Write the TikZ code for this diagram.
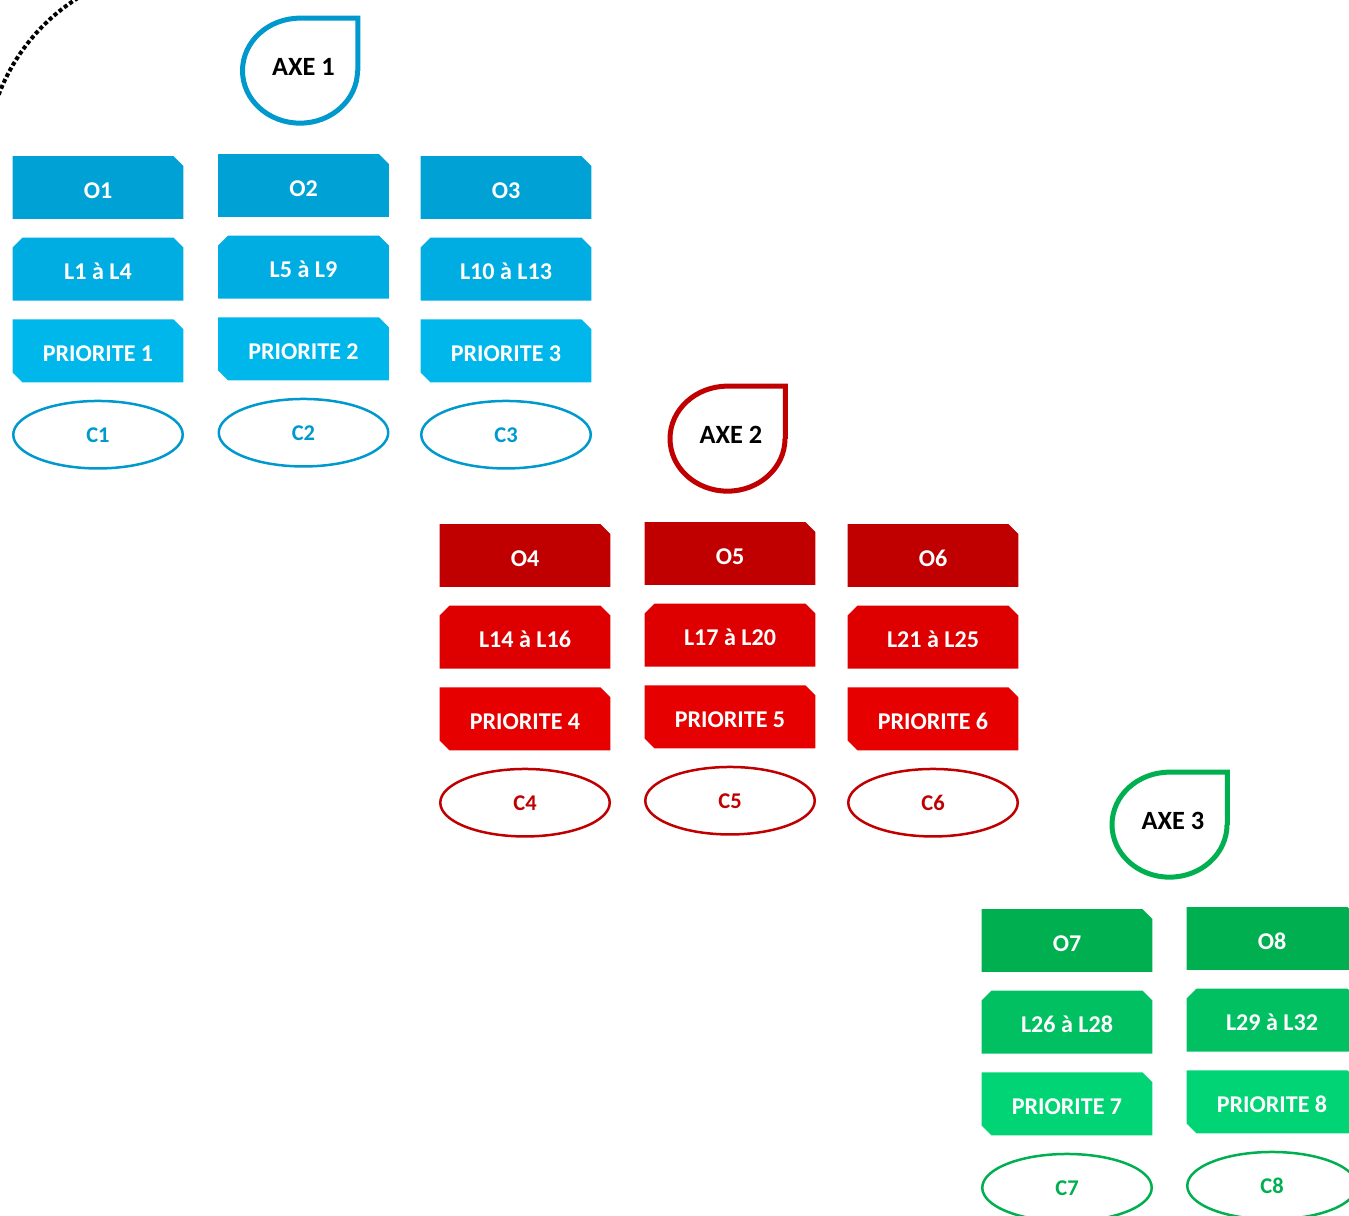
\documentclass[tikz,border=0pt]{standalone}
\usepackage{fontspec}
\setmainfont{Carlito}
\usetikzlibrary{positioning,shapes.misc,shapes.geometric}
\definecolor{bleuO}{RGB}{0,162,214}
\definecolor{bleuL}{RGB}{0,173,226}
\definecolor{bleuP}{RGB}{0,183,235}
\definecolor{bleuC}{RGB}{0,153,206}
\definecolor{rougeO}{RGB}{192,0,0}
\definecolor{rougeL}{RGB}{222,0,0}
\definecolor{rougeP}{RGB}{230,0,0}
\definecolor{rougeC}{RGB}{192,0,0}
\definecolor{vertO}{RGB}{0,176,80}
\definecolor{vertL}{RGB}{0,192,98}
\definecolor{vertP}{RGB}{0,212,116}
\definecolor{vertC}{RGB}{0,176,80}
\begin{document}
\begin{tikzpicture}[
		x=0.02cm, y=0.02cm,
		node distance=0.36cm,
		bloc/.style={chamfered rectangle, chamfered rectangle xsep=0.1cm, chamfered rectangle ysep=0.1cm,
			fill=#1, text=white, minimum width=3.42cm, minimum height=1.26cm, inner sep=0pt,
			text height=0.43cm, text depth=0pt, font=\bfseries\fontsize{13.7}{16}\selectfont},
		obj/.style={bloc=#1, chamfered rectangle corners=north east},
		lig/.style={bloc=#1, chamfered rectangle corners={north west, north east}},
		prio/.style={bloc=#1, chamfered rectangle corners={north east, south west}},
		cib/.style={ellipse, draw=#1, line width=0.05cm, text=#1, minimum width=3.39cm, minimum height=1.35cm,
			font=\bfseries\fontsize{12.8}{15}\selectfont},
		axe/.style={ellipse, minimum width=2.3cm, minimum height=2.1cm, inner sep=0pt,
			text height=0.18cm, text depth=0pt, font=\bfseries\fontsize{15}{18}\selectfont},
		goutte/.style={draw=#1, line width=0.1cm, line join=miter}
		]
		\useasboundingbox (0,0) rectangle (1349,-1216);
		% arc en pointilles
		\coordinate (arcdebut) at (-7.3,-113.3);
		\draw[line width=0.08cm, dash pattern=on 0.08cm off 0.05cm] (arcdebut) arc[start angle=165, end angle=110, radius=196];
		% axes
		\foreach \a/\x/\y/\clr in {1/300/71/bleu, 2/727.5/439/rouge, 3/1169.5/825/vert}
		{
			\node[axe] (ax\a) at (\x,-\y) {\hspace{0.14cm}AXE \a};
			\draw[goutte=\clr C] (ax\a.east) |- (ax\a.north) arc[start angle=90, end angle=360, x radius=57.5, y radius=52.5];
		}
		% colonnes
		\foreach \n/\x/\y/\clr/\lig in {1/98/187.5/bleu/L1 à L4, 2/303.5/185.5/bleu/L5 à L9, 3/506/187.5/bleu/L10 à L13,
			4/525/555.5/rouge/L14 à L16, 5/730/553.5/rouge/L17 à L20, 6/933/555.5/rouge/L21 à L25,
			7/1067/940.5/vert/L26 à L28, 8/1272/938.5/vert/L29 à L32}
		{
			\node[obj=\clr O] (o\n) at (\x,-\y) {O\n};
			\node[lig=\clr L, below=of o\n] (l\n) {\lig};
			\node[prio=\clr P, below=of l\n] (p\n) {PRIORITE \n};
			\node[cib=\clr C, below=0.34cm of p\n] (c\n) {C\n};
		}
	\end{tikzpicture}
\end{document}
